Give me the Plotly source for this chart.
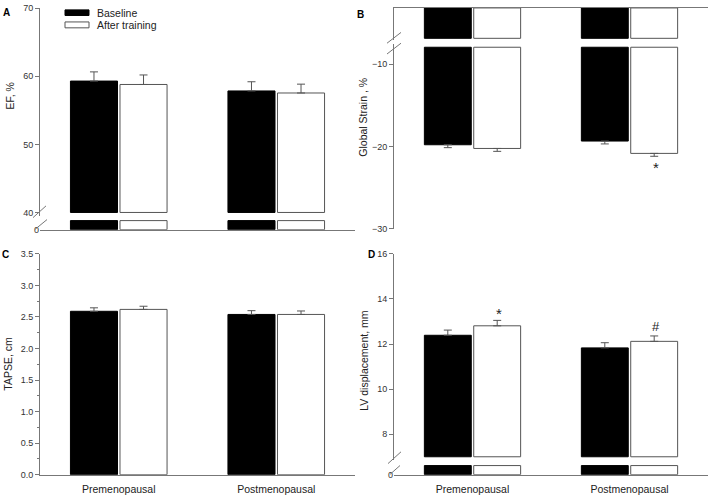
import plotly.graph_objects as go

# ---------------- data ----------------
groups = ["Premenopausal", "Postmenopausal"]
series = ["Baseline", "After training"]

ef_baseline = [59.3, 57.85]
ef_after = [58.8, 57.55]
ef_se_baseline = [1.35, 1.35]
ef_se_after = [1.4, 1.3]

gs_baseline = [-19.8, -19.35]
gs_after = [-20.25, -20.85]
gs_se_baseline = [0.35, 0.35]
gs_se_after = [0.35, 0.35]

tapse_baseline = [2.59, 2.54]
tapse_after = [2.62, 2.54]
tapse_se_baseline = [0.055, 0.06]
tapse_se_after = [0.05, 0.055]

lvd_baseline = [12.39, 11.83]
lvd_after = [12.81, 12.12]
lvd_se_baseline = [0.23, 0.23]
lvd_se_after = [0.24, 0.24]

# broken-axis levels
EF_BREAK = 40
GS_BREAK_UPPER = -3.1
GS_BREAK_LOWER = -7.95
LVD_BREAK = 7.0
STUB = 0.9

W, H = 709, 497
FONT = "Liberation Sans, Arial, sans-serif"
AX = "#777777"
TXT = "#333333"


def xd(a, b):
    return [a / W, b / W]


def yd(top, bot):
    return [1 - bot / H, 1 - top / H]


fill = {"Baseline": "black", "After training": "white"}
edge = {"Baseline": "black", "After training": "#555555"}

fig = go.Figure()


def add(name, x, y, yaxis, base=None, err_up=None, err_down=None):
    kw = {}
    if err_up is not None or err_down is not None:
        kw["error_y"] = dict(
            type="data", symmetric=False,
            array=err_up if err_up is not None else [0] * len(y),
            arrayminus=err_down if err_down is not None else [0] * len(y),
            color="#555555", thickness=1, width=4,
        )
    fig.add_trace(go.Bar(
        name=name, x=x, y=y, base=base, xaxis=yaxis[0], yaxis=yaxis[1],
        marker=dict(color=fill[name], line=dict(color=edge[name], width=1)),
        showlegend=False, hoverinfo="skip", **kw))


# Panel A (EF) - upper and lower segments
add("Baseline", groups, [v - EF_BREAK for v in ef_baseline], ("x", "y"), base=EF_BREAK, err_up=ef_se_baseline)
add("After training", groups, [v - EF_BREAK for v in ef_after], ("x", "y"), base=EF_BREAK, err_up=ef_se_after)
add("Baseline", groups, [STUB] * 2, ("x", "y2"))
add("After training", groups, [STUB] * 2, ("x", "y2"))

# Panel B (Global strain)
add("Baseline", groups, [GS_BREAK_UPPER] * 2, ("x3", "y3"))
add("After training", groups, [GS_BREAK_UPPER] * 2, ("x3", "y3"))
add("Baseline", groups, [v - GS_BREAK_LOWER for v in gs_baseline], ("x3", "y4"), base=GS_BREAK_LOWER, err_down=gs_se_baseline)
add("After training", groups, [v - GS_BREAK_LOWER for v in gs_after], ("x3", "y4"), base=GS_BREAK_LOWER, err_down=gs_se_after)

# Panel C (TAPSE)
add("Baseline", groups, tapse_baseline, ("x5", "y5"), err_up=tapse_se_baseline)
add("After training", groups, tapse_after, ("x5", "y5"), err_up=tapse_se_after)

# Panel D (LV displacement)
add("Baseline", groups, [v - LVD_BREAK for v in lvd_baseline], ("x6", "y6"), base=LVD_BREAK, err_up=lvd_se_baseline)
add("After training", groups, [v - LVD_BREAK for v in lvd_after], ("x6", "y6"), base=LVD_BREAK, err_up=lvd_se_after)
add("Baseline", groups, [STUB] * 2, ("x6", "y7"))
add("After training", groups, [STUB] * 2, ("x6", "y7"))

yax = dict(showline=True, linecolor=AX, linewidth=1, ticks="outside", ticklen=4,
           tickcolor=AX, tickfont=dict(size=9, color=TXT), showgrid=False,
           zeroline=False)
ylow = dict(showline=False, ticks="", tickfont=dict(size=9, color=TXT),
            showgrid=False, zeroline=False, tickvals=[0], range=[0, 1])
xax = dict(showline=True, linecolor=AX, linewidth=1, ticks="", showgrid=False,
           zeroline=False, type="category", range=[-0.5, 1.5],
           tickfont=dict(size=10.5, color="#222222"), ticklabelstandoff=5)

fig.update_layout(
    width=W, height=H, margin=dict(l=0, r=0, t=0, b=0),
    paper_bgcolor="white", plot_bgcolor="rgba(0,0,0,0)",
    font=dict(family=FONT, color=TXT),
    barmode="group", bargap=0.371, bargroupgap=0.05,
    # Panel A
    xaxis=dict(xax, domain=xd(40, 355), anchor="y2", showticklabels=False),
    yaxis=dict(yax, domain=yd(3.3, 215.2), range=[39.5, 70], tickvals=[40, 50, 60, 70], anchor="x"),
    yaxis2=dict(ylow, domain=yd(219, 229.3), anchor="x"),
    # Panel B
    xaxis3=dict(xax, domain=xd(394, 708), anchor="y3", side="top", showticklabels=False),
    yaxis3=dict(yax, domain=yd(3, 36), range=[-3.3, 0], tickvals=[], ticks="", anchor="x3"),
    yaxis4=dict(yax, domain=yd(40, 228.3), range=[-30, -7.58], tickvals=[-10, -20, -30], anchor="x3"),
    # Panel C
    xaxis5=dict(xax, domain=xd(40, 355), anchor="y5"),
    yaxis5=dict(yax, domain=yd(254, 479.3), range=[0, 3.5], dtick=0.5, tick0=0,
                tickformat=".1f", anchor="x5",
                minor=dict(ticks="outside", ticklen=2, tickcolor=AX, dtick=0.25, showgrid=False)),
    # Panel D
    xaxis6=dict(xax, domain=xd(394, 708), anchor="y7"),
    yaxis6=dict(yax, domain=yd(254, 464.5), range=[6.85, 16], tickvals=[8, 10, 12, 14, 16], anchor="x6"),
    yaxis7=dict(ylow, domain=yd(469, 479.3), anchor="x6"),
)

# ---------------- annotations ----------------
ann = []


def pa(text, px, py, size=10.5, bold=False, angle=0, xanchor="center", color="#222222"):
    ann.append(dict(text=f"<b>{text}</b>" if bold else text, x=px / W, y=1 - py / H,
                    xref="paper", yref="paper", showarrow=False, textangle=angle,
                    xanchor=xanchor, yanchor="middle",
                    font=dict(size=size, color=color, family=FONT)))


# panel letters
pa("A", 6, 7.5, size=10, bold=True, color="black")
pa("B", 360, 9.5, size=10, bold=True, color="black")
pa("C", 5, 255, size=10, bold=True, color="black")
pa("D", 371, 255, size=10, bold=True, color="black")

# axis titles
pa("EF, %", 10, 93.5, angle=-90)
pa("Global Strain , %", 363, 115, angle=-90)
pa("TAPSE, cm", 8, 366, angle=-90)
pa("LV displacement, mm", 364, 363, angle=-90)

# legend labels
pa(series[0], 95, 8, size=10.5, xanchor="left")
pa(series[1], 95, 20.3, size=10.5, xanchor="left")

# significance markers
ann.append(dict(text="*", x=groups[1], y=-22.6, xref="x3", yref="y4", xshift=26,
                showarrow=False, font=dict(size=15, family=FONT, color="#222222")))
ann.append(dict(text="*", x=groups[0], y=13.35, xref="x6", yref="y6", xshift=26,
                showarrow=False, font=dict(size=15, family=FONT, color="#222222")))
ann.append(dict(text="#", x=groups[1], y=12.8, xref="x6", yref="y6", xshift=26,
                showarrow=False, font=dict(size=13, family=FONT, color="#222222")))
fig.update_layout(annotations=ann)

# legend swatches and axis-break marks
shapes = [
    dict(type="rect", xref="paper", yref="paper", x0=65 / W, x1=89 / W,
         y0=1 - 10.7 / H, y1=1 - 5 / H, fillcolor="black", line=dict(color="black", width=1)),
    dict(type="rect", xref="paper", yref="paper", x0=65 / W, x1=89 / W,
         y0=1 - 23.3 / H, y1=1 - 17.3 / H, fillcolor="white", line=dict(color="#555555", width=1)),
]
for (x0, y0, x1, y1) in [(33, 217, 46, 205), (35, 229, 47, 219),
                         (387, 39, 401, 28), (387, 50, 401, 39),
                         (388, 468, 401, 456), (390, 479, 400, 470)]:
    shapes.append(dict(type="line", xref="paper", yref="paper",
                       x0=x0 / W, y0=1 - y0 / H, x1=x1 / W, y1=1 - y1 / H,
                       line=dict(color=AX, width=1)))
fig.update_layout(shapes=shapes)

fig.write_html("out.html", config={"displayModeBar": False},
               post_script="document.body.style.margin='0';document.body.style.overflow='hidden';")
